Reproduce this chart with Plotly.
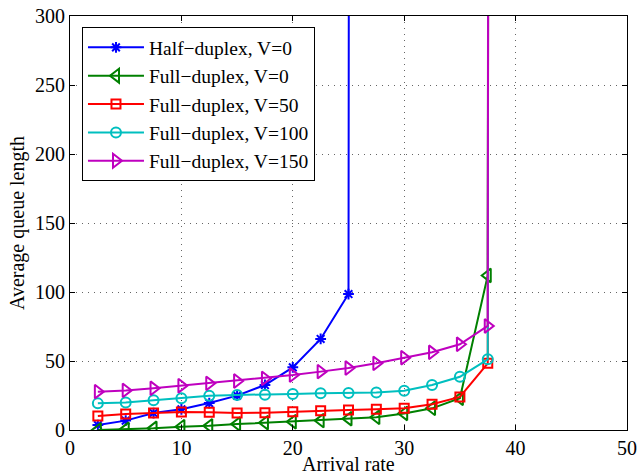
import plotly.graph_objects as go

# Arrival rates
x_half = [2.5, 5, 7.5, 10, 12.5, 15, 17.5, 20, 22.5, 25, 27.5]
x_full = [2.5, 5, 7.5, 10, 12.5, 15, 17.5, 20, 22.5, 25, 27.5, 30, 32.5, 35, 37.5, 40]

half_v0 = [3.6, 6.8, 12.3, 15.0, 19.5, 24.9, 32.6, 45.4, 66.0, 98.5, 20000]
full_v0 = [0.0, 0.5, 1.2, 2.4, 3.0, 4.3, 5.3, 6.0, 6.8, 8.2, 9.2, 12.0, 15.7, 23.0, 112.0, 20000]
full_v50 = [10.1, 11.6, 12.3, 13.0, 12.8, 12.3, 12.5, 13.3, 14.0, 14.5, 15.0, 15.7, 18.6, 24.0, 48.3, 20000]
full_v100 = [19.3, 20.0, 21.5, 23.0, 24.9, 25.4, 25.6, 26.1, 26.6, 26.8, 27.1, 28.5, 32.6, 38.6, 51.2, 20000]
full_v150 = [27.8, 28.7, 30.2, 32.1, 33.8, 35.5, 37.4, 39.8, 42.3, 44.9, 48.3, 52.4, 56.3, 62.1, 75.4, 20000]

x_ticks = [0, 10, 20, 30, 40, 50]
y_ticks = [0, 50, 100, 150, 200, 250, 300]

FONT = "Liberation Serif"

series = [
    ("Half\u2212duplex, V=0", x_half, half_v0, "#0000ff", "asterisk-open", 9),
    ("Full\u2212duplex, V=0", x_full, full_v0, "#008000", "triangle-left-open", 12),
    ("Full\u2212duplex, V=50", x_full, full_v50, "#ff0000", "square-open", 9),
    ("Full\u2212duplex, V=100", x_full, full_v100, "#00bfbf", "circle-open", 10),
    ("Full\u2212duplex, V=150", x_full, full_v150, "#bf00bf", "triangle-right-open", 12),
]

fig = go.Figure()
for i, (name, xs, ys, col, sym, sz) in enumerate(series):
    fig.add_trace(go.Scatter(
        x=xs, y=ys, name=name, mode="lines+markers",
        line=dict(color=col, width=2),
        marker=dict(symbol=sym, size=sz, color=col, line=dict(color=col, width=2)),
    ))

axis_common = dict(
    showline=True, linecolor="black", linewidth=1, mirror="ticks",
    ticks="inside", ticklen=5, tickcolor="black", tickwidth=1,
    showgrid=True, gridcolor="#666666", gridwidth=1, griddash="1px,5px",
    zeroline=False, ticklabeloverflow="allow",
    tickfont=dict(family=FONT, size=20, color="black"),
)

fig.update_xaxes(range=[0, 50], tickvals=x_ticks, **axis_common)
fig.update_yaxes(range=[0, 300], tickvals=y_ticks,
                 title=dict(text="Average queue length", font=dict(family=FONT, size=20, color="black"), standoff=5),
                 **axis_common)

fig.add_annotation(
    text="Arrival rate", x=0.5, y=0, xref="paper", yref="paper",
    xanchor="center", yanchor="middle", yshift=-34, showarrow=False,
    font=dict(family=FONT, size=20, color="black"),
)

fig.update_layout(
    width=640, height=475,
    margin=dict(l=70, r=13, t=16, b=45, autoexpand=False),
    plot_bgcolor="white", paper_bgcolor="white",
    font=dict(family=FONT, size=20, color="black"),
    showlegend=True,
    legend=dict(
        x=0.0215, y=0.973, xanchor="left", yanchor="top",
        bgcolor="white", bordercolor="black", borderwidth=1,
        font=dict(family=FONT, size=19.5, color="black"),
        itemwidth=56,
    ),
)

# Remove the page's default body margin so the figure fills the 640x475 window exactly.
fig.write_html(
    "out.html",
    config={"displayModeBar": False},
    post_script="document.body.style.margin='0';document.body.style.overflow='hidden';",
)
